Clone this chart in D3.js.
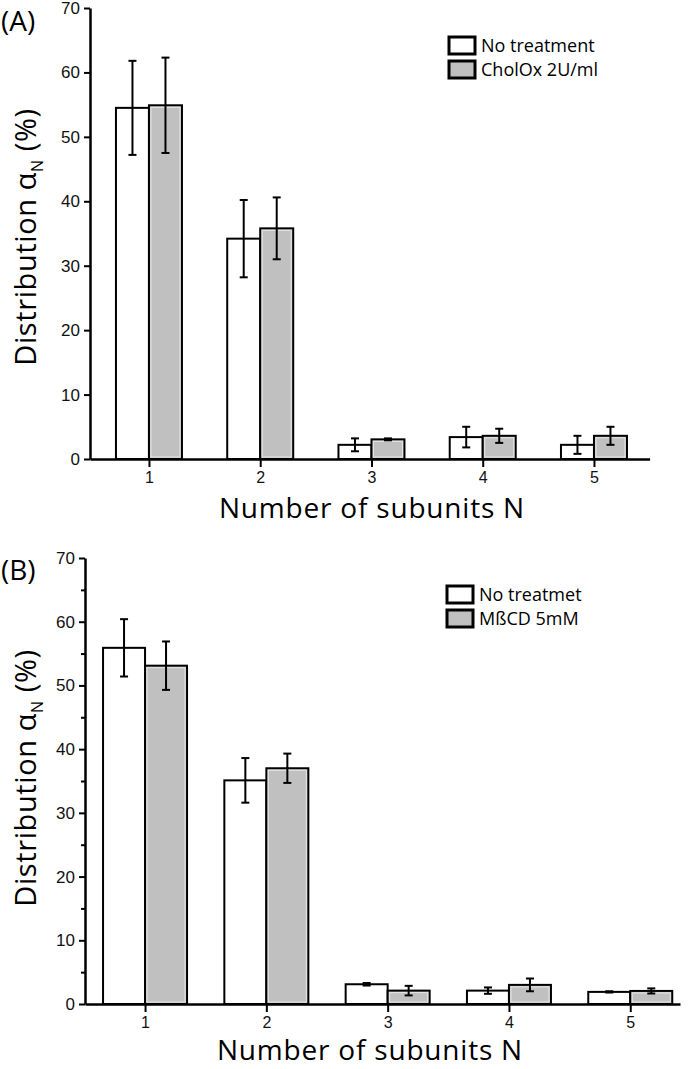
<!DOCTYPE html>
<html>
<head>
<meta charset="utf-8">
<script src="https://cdn.jsdelivr.net/npm/d3@7"></script>
<style>
  body { margin: 0; background: #fff; }
  svg { display: block; font-family: "Open Sans", "Noto Sans", sans-serif; }
</style>
</head>
<body>
<svg width="693" height="1069"></svg>
<script>
// subunit numbers
const subunits = [1, 2, 3, 4, 5];
const yTicks = [0, 10, 20, 30, 40, 50, 60, 70];

// panel A
const aControl = [54.5, 34.2, 2.2, 3.4, 2.2];
const aControlErr = [7.3, 6.0, 1.0, 1.6, 1.4];
const aTreated = [54.9, 35.8, 3.05, 3.6, 3.6];
const aTreatedErr = [7.4, 4.8, 0.15, 1.1, 1.4];
const aLegend = ["No treatment", "CholOx 2U/ml"];

// panel B
const bControl = [55.9, 35.1, 3.1, 2.1, 1.9];
const bControlErr = [4.5, 3.5, 0.2, 0.5, 0.1];
const bTreated = [53.1, 37.0, 2.1, 3.0, 2.05];
const bTreatedErr = [3.8, 2.3, 0.75, 1.0, 0.4];
const bLegend = ["No treatmet", "MßCD 5mM"];

const svg = d3.select("svg");

function panel(opt) {
  const x = d3.scaleLinear().domain(opt.xDomain).range(opt.xRange);
  const y = d3.scaleLinear().domain([0, 70]).range(opt.yRange);
  const g = svg.append("g");
  const bw = opt.barWidth;

  const series = [
    { vals: opt.control, errs: opt.controlErr, fill: "#fff", off: -1 },
    { vals: opt.treated, errs: opt.treatedErr, fill: "#c0c0c0", off: 0 },
  ];

  series.forEach((s) => {
    const bars = g.append("g");
    bars.selectAll("rect.bar")
      .data(subunits)
      .enter()
      .append("rect")
      .attr("class", "bar")
      .attr("x", (d) => x(d) + s.off * bw)
      .attr("y", (d, i) => y(s.vals[i]))
      .attr("width", bw)
      .attr("height", (d, i) => y(0) - y(s.vals[i]))
      .attr("fill", s.fill)
      .attr("stroke", "#000")
      .attr("stroke-width", 2);

    // light inner edge seen on the grey bars
    if (s.off === 0) {
      bars.selectAll("rect.inner")
        .data(subunits)
        .enter()
        .append("rect")
        .attr("class", "inner")
        .attr("x", (d) => x(d) + 2)
        .attr("y", (d, i) => y(s.vals[i]) + 2)
        .attr("width", bw - 4)
        .attr("height", (d, i) => Math.max(0, y(0) - y(s.vals[i]) - 4))
        .attr("fill", "none")
        .attr("stroke", "#e6e6e6")
        .attr("stroke-width", 1);
    }

    const eb = g.append("g").attr("stroke", "#000").attr("stroke-width", 2);
    subunits.forEach((d, i) => {
      const cx = x(d) + s.off * bw + bw / 2;
      const hi = y(s.vals[i] + s.errs[i]);
      const lo = y(s.vals[i] - s.errs[i]);
      eb.append("line").attr("x1", cx).attr("x2", cx).attr("y1", hi).attr("y2", lo);
      eb.append("line").attr("x1", cx - 4).attr("x2", cx + 4).attr("y1", hi).attr("y2", hi);
      eb.append("line").attr("x1", cx - 4).attr("x2", cx + 4).attr("y1", lo).attr("y2", lo);
    });
  });

  // y axis
  const ya = g.append("g")
    .attr("transform", `translate(${opt.xRange[0]},0)`)
    .call(d3.axisLeft(y).tickValues(yTicks).tickSize(6).tickSizeOuter(0).tickPadding(4));
  if (opt.minor) {
    g.append("g")
      .attr("transform", `translate(${opt.xRange[0]},0)`)
      .call(d3.axisLeft(y).tickValues([5, 15, 25, 35, 45, 55, 65]).tickSize(4).tickFormat(""))
      .call((a) => a.select(".domain").remove());
  }

  // x axis
  g.append("g")
    .attr("transform", `translate(0,${opt.yRange[0]})`)
    .call(d3.axisBottom(x).tickValues(subunits).tickSize(8).tickSizeOuter(0).tickPadding(5).tickFormat(d3.format("d")));

  g.selectAll(".domain").attr("stroke-width", 2.5);
  g.selectAll(".tick line").attr("stroke-width", 2);
  g.selectAll(".tick text").attr("font-size", 16).attr("fill", "#111");
  ya.selectAll(".tick text").attr("font-size", 17);

  // titles
  g.append("text")
    .attr("x", 1).attr("y", opt.label[1])
    .attr("font-size", 28).text(opt.name);

  g.append("text")
    .attr("transform", `translate(${opt.yTitle[0]},${opt.yTitle[1]}) rotate(-90)`)
    .attr("text-anchor", "middle")
    .attr("font-size", 29)
    .attr("letter-spacing", 0.6)
    .call((t) => {
      t.append("tspan").text("Distribution α");
      t.append("tspan").attr("font-size", 16).attr("dy", 7).text("N");
      t.append("tspan").attr("dy", -7).text(" (%)");
    });

  g.append("text")
    .attr("x", opt.xTitle[0]).attr("y", opt.xTitle[1])
    .attr("text-anchor", "middle")
    .attr("font-size", 28)
    .attr("letter-spacing", 0.8)
    .text("Number of subunits N");

  // legend
  const lg = g.append("g").attr("transform", `translate(${opt.legend[0]},${opt.legend[1]})`);
  ["#fff", "#c0c0c0"].forEach((c, i) => {
    lg.append("rect")
      .attr("x", 0).attr("y", i * 24)
      .attr("width", 26).attr("height", 17)
      .attr("fill", c).attr("stroke", "#000").attr("stroke-width", 3);
    lg.append("text")
      .attr("x", 32).attr("y", i * 24 + 15)
      .attr("font-size", 18)
      .text(opt.legendText[i]);
  });
}

panel({
  name: "(A)",
  xDomain: [0.47, 5.5], xRange: [90, 649.6],
  yRange: [459, 8], barWidth: 33,
  control: aControl, controlErr: aControlErr,
  treated: aTreated, treatedErr: aTreatedErr,
  legendText: aLegend, legend: [449, 37],
  label: [0, 31], yTitle: [36, 237], xTitle: [372, 518],
  minor: false,
});

panel({
  name: "(B)",
  xDomain: [0.505, 5.41], xRange: [85, 680],
  yRange: [1004, 558], barWidth: 42,
  control: bControl, controlErr: bControlErr,
  treated: bTreated, treatedErr: bTreatedErr,
  legendText: bLegend, legend: [447, 586],
  label: [0, 580], yTitle: [36, 778], xTitle: [370, 1060],
  minor: true,
});
</script>
</body>
</html>
